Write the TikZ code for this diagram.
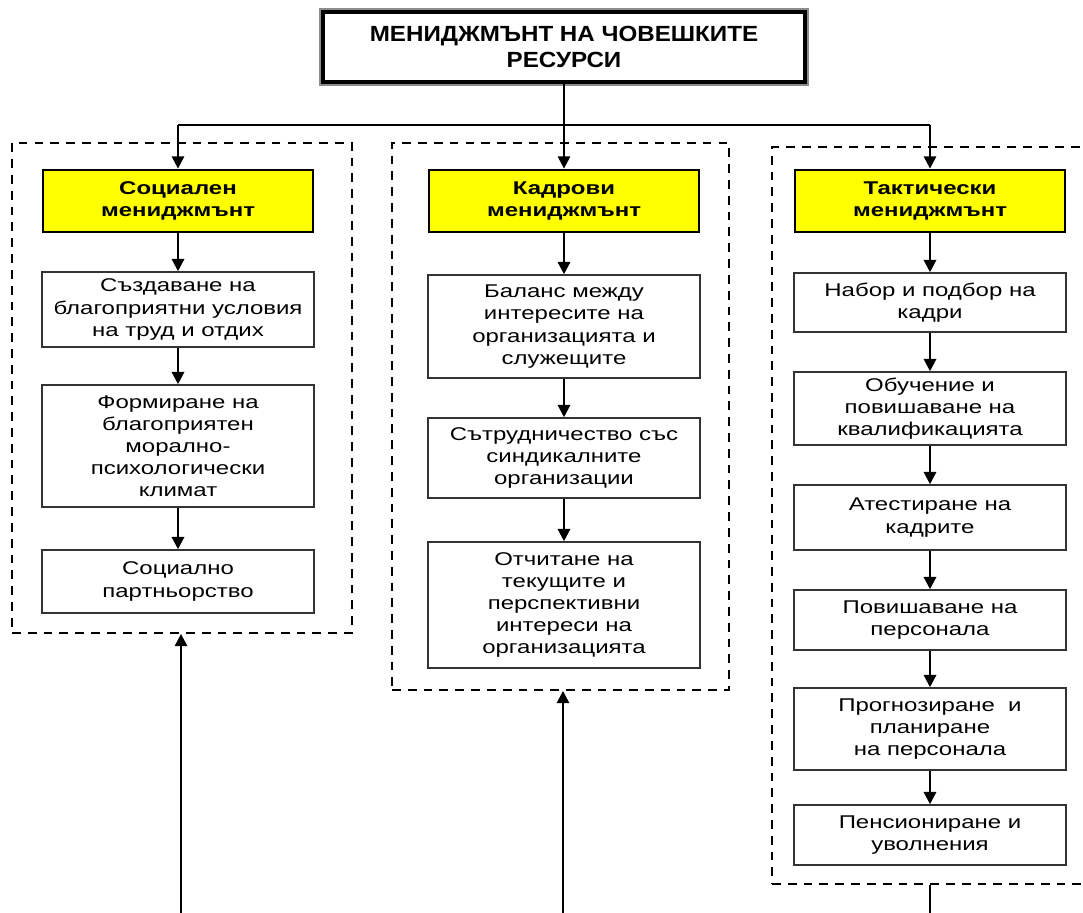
\documentclass[tikz,border=0pt]{standalone}
\usepackage{fontspec}
\setmainfont{Liberation Sans}[FakeStretch=1.3]
\newfontfamily\titlefont{Liberation Sans}[FakeStretch=1.1]
\usetikzlibrary{arrows.meta}
\definecolor{headyellow}{RGB}{255,255,0}
\tikzset{
  arr/.style={line width=1.3pt, -{Triangle[width=7pt,length=7pt]}},
  plain/.style={line width=1.3pt},
  itembox/.style={draw=black!80, line width=0.9pt, fill=white, align=center,
    minimum width=5.44cm, inner sep=2pt, font=\fontsize{10.5}{12.6}\selectfont},
  headbox/.style={draw=black, line width=1.6pt, fill=headyellow, align=center,
    minimum width=5.4cm, minimum height=1.24cm, font=\bfseries\fontsize{10.5}{12.6}\selectfont},
  groupbox/.style={draw=black, dashed, dash pattern=on 5pt off 4pt, line width=1.1pt}
}
\begin{document}
\begin{tikzpicture}[x=0.02cm,y=-0.02cm]
\useasboundingbox (0,0) rectangle (1083,913);
\node[groupbox, minimum width=6.8cm, minimum height=9.8cm] (gL) at (182,388) {};
\node[groupbox, minimum width=6.74cm, minimum height=10.94cm] (gM) at (560.5,416.5) {};
\node[groupbox, minimum width=6.46cm, minimum height=14.74cm] (gR) at (933.5,515.5) {};
\node[draw=black, line width=1.8pt, preaction={draw=black!45, line width=4.5pt},
  fill=white, minimum width=9.64cm, minimum height=1.4cm, align=center,
  font=\titlefont\bfseries\fontsize{12.5}{14.5}\selectfont] (top) at (564,47) {МЕНИДЖМЪНТ НА ЧОВЕШКИТЕ\\РЕСУРСИ};
\node[headbox] (yL) at (178,201) {Социален\\мениджмънт};
\node[headbox] (yM) at (564,201) {Кадрови\\мениджмънт};
\node[headbox] (yR) at (930,201) {Тактически\\мениджмънт};
\node[itembox, minimum height=1.5cm] (L1) at (178,309.5) {Създаване на\\благоприятни условия\\на труд и отдих};
\node[itembox, minimum height=2.44cm] (L2) at (178,446) {Формиране на\\благоприятен\\морално-\\психологически\\климат};
\node[itembox, minimum height=1.26cm] (L3) at (178,581.5) {Социално\\партньорство};
\node[itembox, minimum height=2.06cm] (M1) at (564,326.5) {Баланс между\\интересите на\\организацията и\\служещите};
\node[itembox, minimum height=1.6cm] (M2) at (564,458) {Сътрудничество със\\синдикалните\\организации};
\node[itembox, minimum height=2.52cm] (M3) at (564,605) {Отчитане на\\текущите и\\перспективни\\интереси на\\организацията};
\node[itembox, minimum height=1.18cm] (R1) at (930,302.5) {Набор и подбор на\\кадри};
\node[itembox, minimum height=1.46cm] (R2) at (930,408.5) {Обучение и\\повишаване на\\квалификацията};
\node[itembox, minimum height=1.3cm] (R3) at (930,517.5) {Атестиране на\\кадрите};
\node[itembox, minimum height=1.2cm] (R4) at (930,620) {Повишаване на\\персонала};
\node[itembox, minimum height=1.64cm] (R5) at (930,729) {Прогнозиране~ и\\планиране\\на персонала};
\node[itembox, minimum height=1.2cm] (R6) at (930,835) {Пенсиониране и\\уволнения};
\coordinate (hub) at (564,125);
\coordinate (bL) at (181,913);
\coordinate (bM) at (563,913);
\coordinate (bR) at (930,913);
\draw[arr] (top) -- (yM);
\draw[plain] (hub -| yL) -- (hub -| yR);
\draw[arr] (hub -| yL) -- (yL);
\draw[arr] (hub -| yR) -- (yR);
\foreach \a/\b in {yL/L1,L1/L2,L2/L3,yM/M1,M1/M2,M2/M3,yR/R1,R1/R2,R2/R3,R3/R4,R4/R5,R5/R6}
  \draw[arr] (\a) -- (\b);
\draw[arr] (bL) -- (bL |- gL.south);
\draw[arr] (bM) -- (bM |- gM.south);
\draw[plain] (bR |- gR.south) -- (bR);
\end{tikzpicture}
\end{document}
